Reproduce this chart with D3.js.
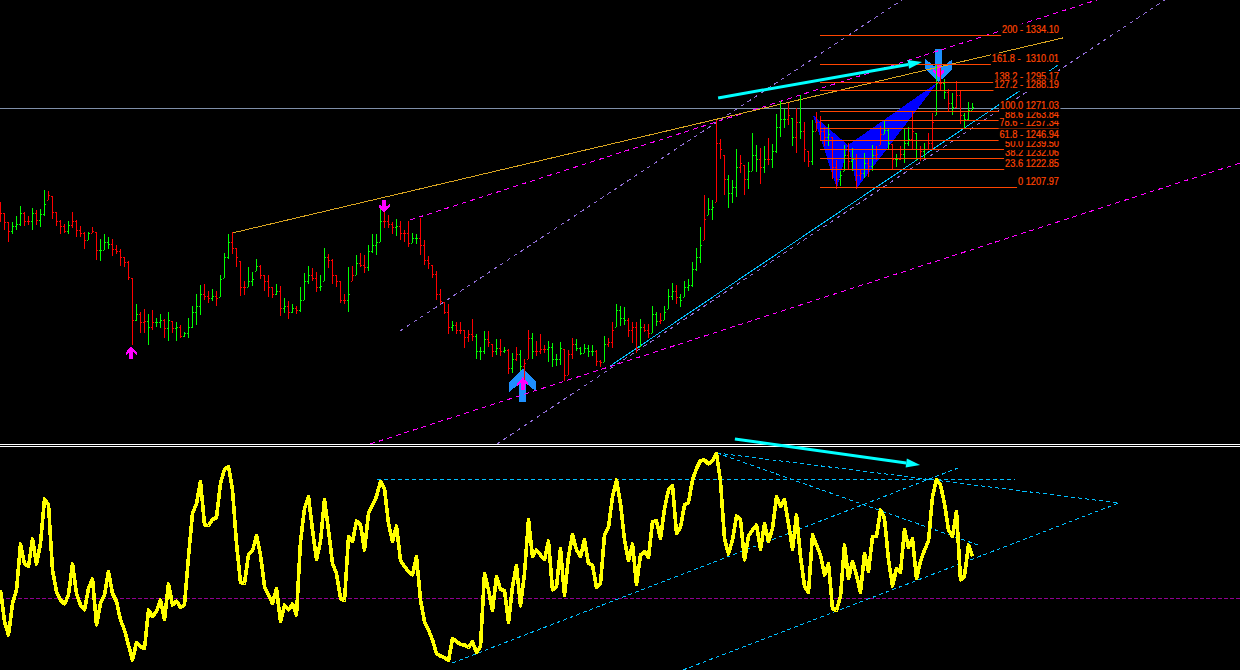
<!DOCTYPE html>
<html><head><meta charset="utf-8">
<style>html,body{margin:0;padding:0;background:#000;overflow:hidden}svg{display:block}</style>
<script src="https://cdn.jsdelivr.net/npm/d3@7/dist/d3.min.js"></script>
</head><body><svg id="c" width="1240" height="670"></svg>
<script>
const barHighs=[1196,1187,1179,1179,1184,1193,1188,1184,1191,1189,
1190,1206,1205,1201,1188,1181,1178,1180,1188,1181,
1176,1171,1171,1175,1171,1165,1169,1167,1165,1160,
1157,1150,1147,1133,1111,1105,1107,1103,1106,1100,
1103,1099,1105,1097,1096,1094,1088,1100,1110,1120,
1127,1128,1122,1124,1122,1135,1154,1169,1171,1158,
1147,1130,1142,1138,1149,1144,1135,1135,1125,1128,
1126,1116,1114,1111,1110,1125,1137,1143,1141,1138,
1135,1158,1153,1149,1135,1130,1120,1142,1143,1152,
1154,1152,1160,1169,1169,1190,1188,1185,1179,1182,
1180,1173,1180,1170,1169,1183,1164,1151,1144,1139,
1124,1113,1111,1097,1096,1096,1090,1090,1099,1086,
1076,1089,1089,1078,1082,1082,1076,1074,1071,1076,
1073,1066,1090,1087,1081,1086,1077,1081,1079,1070,
1080,1074,1073,1083,1082,1076,1078,1077,1077,1073,
1065,1085,1083,1096,1111,1110,1109,1100,1096,1096,
1099,1095,1095,1110,1105,1104,1110,1124,1129,1127,
1120,1130,1132,1146,1158,1175,1202,1199,1198,1264,
1248,1235,1218,1214,1240,1235,1227,1229,1253,1243,
1241,1242,1249,1244,1269,1280,1273,1278,1266,1274,
1285,1262,1238,1264,1271,1267,1258,1261,1250,1231,
1222,1243,1245,1241,1236,1223,1237,1232,1243,1242,
1259,1263,1257,1244,1236,1242,1257,1258,1271,1253,
1242,1245,1253,1270,1310,1307,1298,1290,1286,1296,
1288,1270,1279,1278];
const barLows=[1179,1173,1163,1169,1173,1176,1176,1177,1173,1177,
1175,1184,1198,1182,1176,1169,1170,1169,1174,1167,
1167,1157,1164,1170,1148,1147,1156,1157,1151,1153,
1143,1142,1131,1077,1097,1087,1087,1077,1090,1092,
1091,1083,1081,1087,1081,1083,1084,1083,1091,1094,
1102,1115,1112,1114,1110,1117,1133,1149,1153,1142,
1118,1119,1125,1126,1139,1132,1122,1117,1116,1119,
1101,1104,1099,1104,1103,1105,1115,1128,1130,1121,
1122,1130,1141,1128,1125,1112,1111,1105,1130,1135,
1142,1137,1139,1154,1152,1163,1174,1174,1169,1168,
1164,1163,1159,1162,1161,1152,1144,1140,1133,1115,
1111,1103,1086,1089,1086,1086,1075,1080,1081,1066,
1065,1070,1076,1067,1069,1068,1071,1053,1054,1064,
1056,1048,1066,1066,1068,1070,1071,1063,1059,1060,
1061,1047,1052,1066,1072,1069,1071,1067,1068,1060,
1059,1063,1076,1075,1092,1093,1094,1084,1079,1071,
1076,1088,1083,1087,1093,1095,1098,1107,1115,1111,
1109,1117,1122,1125,1139,1145,1164,1185,1181,1196,
1232,1202,1191,1195,1200,1220,1202,1207,1222,1221,
1211,1220,1227,1224,1237,1250,1257,1260,1242,1237,
1248,1229,1225,1227,1255,1247,1242,1242,1215,1207,
1209,1222,1223,1222,1207,1214,1216,1217,1222,1231,
1243,1252,1240,1223,1225,1231,1228,1242,1239,1230,
1230,1232,1239,1240,1268,1289,1281,1271,1268,1274,
1261,1257,1264,1272];
const barCloses=[1187,1179,1172,1176,1178,1187,1180,1180,1187,1181,
1186,1194,1202,1188,1180,1176,1172,1177,1180,1173,
1170,1164,1170,1172,1156,1156,1163,1161,1157,1155,
1150,1146,1134,1098,1103,1096,1097,1092,1096,1096,
1098,1091,1098,1091,1092,1085,1087,1092,1105,1110,
1120,1118,1116,1118,1116,1132,1150,1163,1158,1150,
1125,1125,1130,1132,1143,1135,1130,1125,1120,1122,
1108,1110,1105,1108,1106,1115,1130,1135,1133,1125,
1126,1150,1148,1135,1130,1115,1115,1120,1135,1145,
1144,1142,1155,1160,1163,1180,1180,1178,1175,1176,
1170,1170,1162,1166,1166,1160,1148,1145,1136,1120,
1114,1105,1092,1094,1090,1090,1084,1086,1085,1072,
1072,1082,1080,1072,1075,1072,1073,1058,1066,1070,
1060,1062,1083,1072,1072,1074,1074,1076,1066,1066,
1075,1052,1070,1078,1075,1071,1075,1072,1072,1064,
1063,1078,1080,1090,1106,1100,1098,1090,1092,1075,
1092,1090,1087,1103,1097,1098,1105,1118,1122,1117,
1115,1125,1127,1140,1150,1160,1182,1190,1192,1245,
1240,1215,1203,1208,1225,1228,1215,1222,1235,1232,
1225,1232,1232,1238,1258,1265,1265,1268,1250,1262,
1255,1240,1230,1255,1262,1255,1250,1252,1225,1215,
1218,1235,1230,1232,1218,1220,1228,1226,1235,1236,
1252,1256,1245,1232,1232,1236,1245,1248,1255,1240,
1238,1240,1245,1262,1295,1295,1287,1278,1275,1285,
1268,1265,1272,1275];
const barDirections=
"DDDUUUDDUDUUDDDDDUDD"+"DDUDDUUUDDDDDDUDDUDU"+"UDUDUDUUUUUDDUDUUUDD"+"DDUUUDDDDUDUDUDUUUDD"+
"UUDDDDDUDUDDUUUUDDDU"+"DDDUUDDDDDDDDUDDDDDU"+"UUDDUDUDUDUDDUDDDUUU"+"UDDDUUUUUDDUDDUUUDDD"+
"UDDUUDUUUDUUUUUUDUUD"+"DDUUUDDUUUDUDUUUUDUD"+"UDDUDDDUDDUUDUDDUDUD"+"DUUDUDUUDUDUDDUDUDUD"+
"DUUUUDDDDUDUUD";
const oscValues=[51.7,45.4,42.7,49.0,51.7,60.9,57.0,56.4,61.9,56.9,
61.0,69.9,68.7,55.7,51.4,49.7,48.9,50.7,56.9,51.0,
48.7,47.7,52.0,53.9,44.7,49.0,50.7,55.4,51.0,49.4,
45.7,43.7,40.7,37.7,41.2,40.4,40.0,47.7,46.4,47.4,
49.7,45.8,52.9,48.7,49.5,48.2,48.7,58.4,67.0,69.0,
73.4,64.7,64.6,65.8,66.2,73.0,75.8,76.4,71.7,61.0,
53.2,53.0,58.8,59.5,62.6,58.7,52.4,50.7,49.0,52.0,
45.4,48.7,47.7,48.9,46.7,61.4,68.0,70.4,63.7,57.8,
61.4,69.8,63.7,57.0,55.0,50.0,49.6,62.4,61.4,65.5,
64.7,59.7,67.0,68.7,70.4,73.4,72.0,65.0,61.4,64.5,
57.6,56.4,55.4,54.7,58.4,49.7,45.4,43.7,41.7,39.0,
38.5,38.2,37.6,42.0,41.4,40.8,40.7,40.2,41.4,39.2,
40.4,55.0,51.7,47.6,54.4,51.8,51.6,45.2,52.4,56.6,
48.5,55.0,65.8,58.4,59.7,58.7,57.8,61.5,51.7,52.4,
60.0,50.6,58.4,62.8,59.7,58.4,61.8,57.0,56.7,52.2,
52.9,62.7,64.2,70.4,73.7,69.0,61.7,57.6,60.9,52.8,
58.7,59.4,58.2,65.4,65.5,62.0,68.0,71.7,72.6,63.0,
64.2,68.7,69.2,73.7,76.0,77.6,77.7,76.9,77.6,79.0,
73.4,62.0,58.9,61.7,66.5,65.8,57.7,62.5,63.7,64.7,
59.8,65.0,61.4,64.0,70.4,68.4,69.8,65.0,59.8,66.7,
58.4,52.4,51.2,62.7,60.7,58.7,54.7,57.0,48.0,47.6,
50.4,60.7,54.0,57.4,54.7,51.2,59.0,55.4,62.4,62.4,
67.7,66.0,57.7,52.5,56.0,55.2,63.8,60.2,62.0,54.0,
57.4,59.7,61.5,70.4,73.8,72.7,69.0,63.7,62.4,67.4,
53.7,54.5,60.7,58.4];
const fibLabels=["200 - 1334.10","161.8 -  1310.01","138.2 - 1295.17","127.2 - 1288.19","0 1207.97","23.6 1222.85","38.2 1232.06","50.0 1239.50","61.8 - 1246.94","78.6 - 1257.34","88.6 1263.84","100.0 1271.03"];
const fibPrices=[1334.10,1310.01,1295.17,1288.19,1207.97,1222.85,1232.06,1239.50,1246.94,1257.34,1263.84,1271.03];
const fibStartIndex=204.9, fibEndIndex=264.5;
const currentPrice=1273.6;
const oscLevel=50;
const patternA=[[203.1,1268.1],[209.1,1207.5],[211.9,1243.2]];
const patternB=[[211.9,1243.2],[214.1,1207.5],[234.4,1295.5]];
const goldLines=[[57.9,1170.2,265.6,1332.1]];
const magentaLines=[[102.4,1181,274.1,1363.6],[92.4,995.1,309.9,1228.3]];
const purpleLines=[[99.9,1088.9,225.4,1363.6],[124.1,995.1,291.1,1363.6]];
const blueLines=[[152.4,1059.8,264.4,1309.6]];
const oscLines=[[94.1,73.9,253.6,73.9],[179.1,79.1,279.6,69.1],[179.1,79.1,245.1,60.5],[112.9,37.1,239.4,76.1],[170.6,35.7,279.6,69.1]];
const priceArrow=[179.4,1282.3,230.4,1312.1];
const oscArrow=[183.6,81.9,229.9,76.7];
const bigUp=[130.6,1057.6], bigDown=[234.6,1295.5];
const smallUp=[32.7,1076.2], smallUp2=[130.6,1050.7], smallDown=[95.9,1187], smallDown2=[234.6,1299];

const W=1240,H=670,sepTop=444,sepBottom=446;
const svg=d3.select("#c");
svg.append("rect").attr("width",W).attr("height",H).attr("fill","#000");
const defs=svg.append("defs");
defs.append("clipPath").attr("id","top").append("rect").attr("width",W).attr("height",sepTop);
defs.append("clipPath").attr("id","bot").append("rect").attr("y",sepBottom+1).attr("width",W).attr("height",H-sepBottom);

const x=d3.scaleLinear().domain([0,243]).range([0.5,972.5]);
const y=d3.scaleLinear().domain([1207.97,1334.10]).range([187.5,35.5]);
const yo=d3.scaleLinear().domain([50,79]).range([598.5,453.5]);

const main=svg.append("g").attr("clip-path","url(#top)");
const sub=svg.append("g").attr("clip-path","url(#bot)");

function trend(g,rows,yScale,color,dash,width){
  g.selectAll(null).data(rows).join("line")
   .attr("x1",d=>x(d[0])).attr("y1",d=>yScale(d[1]))
   .attr("x2",d=>x(d[2])).attr("y2",d=>yScale(d[3]))
   .attr("stroke",color).attr("stroke-width",width||1)
   .attr("stroke-dasharray",dash).attr("shape-rendering","crispEdges");
}
// current price line
main.append("line").attr("x1",0).attr("x2",W).attr("y1",Math.floor(y(currentPrice))+.5).attr("y2",Math.floor(y(currentPrice))+.5)
  .attr("stroke","#7f8fa9").attr("shape-rendering","crispEdges");

// harmonic pattern wings
const tri=d3.line().x(d=>x(d[0])).y(d=>y(d[1]));
main.selectAll(null).data([patternA,patternB]).join("path")
  .attr("d",d=>tri(d)+"Z").attr("fill","#0000ff").attr("shape-rendering","crispEdges");

// arrow glyphs (under the bars and lines)
const upGlyph=[[0,0],[13.5,13],[13.5,23],[3.5,15],[3.5,33],[-3.5,33],[-3.5,15],[-13.5,23],[-13.5,13]];
const smallGlyph=[[0,0],[5.5,6],[5.5,9],[2,6],[2,13],[-2,13],[-2,6],[-5.5,9],[-5.5,6]];
function glyph(pos,shape,flip,fill){
  const px=x(pos[0]),py=y(pos[1]);
  main.append("polygon")
    .attr("points",shape.map(p=>[px+p[0],py+(flip?-p[1]:p[1])].join(",")).join(" "))
    .attr("fill",fill).attr("shape-rendering","crispEdges");
}
glyph(bigUp,upGlyph,false,"#1e90ff");
glyph(bigDown,upGlyph,true,"#1e90ff");
glyph(smallUp,smallGlyph,false,"#ff00ff");
glyph(smallUp2,smallGlyph,false,"#ff00ff");
glyph(smallDown,smallGlyph,true,"#ff00ff");
glyph(smallDown2,smallGlyph,true,"#ff00ff");

trend(main,purpleLines,y,"#9370db","4,4");
trend(main,magentaLines,y,"#ff00ff","5,4");
trend(main,goldLines,y,"#daa520",null);
trend(main,blueLines,y,"#00bfff",null);

// price bars
const bars=barHighs.map((h,i)=>({i,h,l:barLows[i],c:barCloses[i],o:i?barCloses[i-1]:barCloses[0],up:barDirections[i]==="U"}));
const barG=main.append("g").attr("shape-rendering","crispEdges");
const col=d=>d.up?"#00ff00":"#ff0000";
barG.selectAll(".hl").data(bars).join("line")
  .attr("x1",d=>x(d.i)).attr("x2",d=>x(d.i)).attr("y1",d=>Math.round(y(d.h))).attr("y2",d=>Math.round(y(d.l)))
  .attr("stroke",col);
const clampOpen=d=>Math.min(d.h,Math.max(d.l,d.o));
barG.selectAll(".op").data(bars).join("line")
  .attr("x1",d=>x(d.i)-1.5).attr("x2",d=>x(d.i)-.5)
  .attr("y1",d=>Math.round(y(clampOpen(d)))+.5).attr("y2",d=>Math.round(y(clampOpen(d)))+.5)
  .attr("stroke",col);
barG.selectAll(".cl").data(bars).join("line")
  .attr("x1",d=>x(d.i)+.5).attr("x2",d=>x(d.i)+1.5)
  .attr("y1",d=>Math.round(y(d.c))+.5).attr("y2",d=>Math.round(y(d.c))+.5)
  .attr("stroke",col);

// Fibonacci levels with black-backed labels
main.selectAll(".fib").data(fibPrices).join("line")
  .attr("x1",x(fibStartIndex)).attr("x2",x(fibEndIndex))
  .attr("y1",d=>Math.floor(y(d))+.5).attr("y2",d=>Math.floor(y(d))+.5)
  .attr("stroke","#ff4500").attr("shape-rendering","crispEdges");
fibLabels.forEach((t,k)=>{
  const by=y(fibPrices[k])-2.4;
  const g=main.append("g").attr("transform",`translate(1059,${by}) scale(0.88,1)`);
  const r=g.append("rect").attr("fill","#000");
  const tx=g.append("text").attr("x",0).attr("y",0).attr("text-anchor","end")
    .attr("font-family","'Liberation Sans',Arial,sans-serif").attr("font-size",10.5)
    .attr("fill","#ff4500").attr("stroke","#ff4500").attr("stroke-width",0.2).style("white-space","pre").text(t);
  const b=tx.node().getBBox();
  r.attr("x",b.x-1).attr("y",-9).attr("width",b.width+2).attr("height",12);
});

// oscillator pane
sub.append("line").attr("x1",0).attr("x2",W).attr("y1",Math.floor(yo(oscLevel))+.5).attr("y2",Math.floor(yo(oscLevel))+.5)
  .attr("stroke","#900090").attr("stroke-dasharray","4,2").attr("shape-rendering","crispEdges");
trend(sub,oscLines,yo,"#00bfff","4,3");
const oscLine=d3.line().x((d,i)=>x(i)).y(d=>yo(d));
sub.append("path").attr("d",oscLine(oscValues)).attr("fill","none").attr("stroke","#ffff00")
  .attr("stroke-width",3.6).attr("stroke-linejoin","round").attr("shape-rendering","crispEdges");

// separators
[sepTop,sepBottom].forEach(v=>svg.append("rect").attr("x",0).attr("y",v).attr("width",W).attr("height",1).attr("fill","#fff"));

// cyan divergence arrows
function bigArrow(d,yScale){
  const x1=x(d[0]),y1=yScale(d[1]),x2=x(d[2]),y2=yScale(d[3]);
  const a=Math.atan2(y2-y1,x2-x1),ux=Math.cos(a),uy=Math.sin(a),L=14,w=4.5;
  const bx=x2-ux*L,by=y2-uy*L;
  svg.append("line").attr("x1",x1).attr("y1",y1).attr("x2",bx).attr("y2",by)
    .attr("stroke","#00ffff").attr("stroke-width",3);
  svg.append("polygon").attr("points",[[x2,y2],[bx-uy*w,by+ux*w],[bx+uy*w,by-ux*w]].map(p=>p.join(",")).join(" "))
    .attr("fill","#00ffff");
}
bigArrow(priceArrow,y);
bigArrow(oscArrow,yo);
</script></body></html>
